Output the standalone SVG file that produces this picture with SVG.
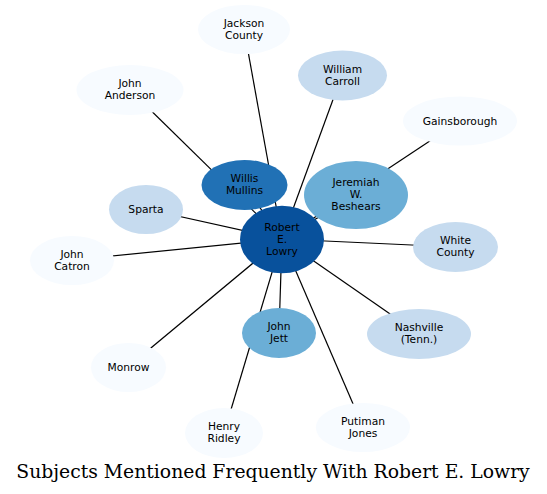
<svg xmlns="http://www.w3.org/2000/svg" width="547" height="494" viewBox="0 0 547 494">
<style>
.e{stroke:#000;stroke-width:1.2;fill:none}
.n text{font-family:"DejaVu Sans",sans-serif;font-size:10.7px;fill:#000;text-anchor:middle}
.l0{fill:#f7fbff}.l1{fill:#c6dbef}.l2{fill:#6baed6}.l3{fill:#2171b5}.l4{fill:#08519c}
.t{font-family:"DejaVu Serif",serif;font-size:18.8px;text-anchor:middle;fill:#000}
</style>
<rect width="547" height="494" fill="#fff"/>
<g id="edges">
<line class="e" x1="244" y1="29" x2="282" y2="239"/>
<line class="e" x1="130" y1="90" x2="282" y2="239"/>
<line class="e" x1="342" y1="75" x2="282" y2="239"/>
<line class="e" x1="460" y1="121" x2="282" y2="239"/>
<line class="e" x1="244" y1="185" x2="282" y2="239"/>
<line class="e" x1="356" y1="195" x2="282" y2="239"/>
<line class="e" x1="146" y1="209" x2="282" y2="239"/>
<line class="e" x1="72" y1="260" x2="282" y2="239"/>
<line class="e" x1="455" y1="247" x2="282" y2="239"/>
<line class="e" x1="419" y1="334" x2="282" y2="239"/>
<line class="e" x1="279" y1="333" x2="282" y2="239"/>
<line class="e" x1="128" y1="367" x2="282" y2="239"/>
<line class="e" x1="224" y1="433" x2="282" y2="239"/>
<line class="e" x1="363" y1="427" x2="282" y2="239"/>
</g>
<g id="jackson" class="n"><ellipse class="l0" cx="244" cy="29.5" rx="46" ry="24.5"/><text x="244" y="26.5">Jackson</text><text x="244" y="38.5">County</text></g>
<g id="anderson" class="n"><ellipse class="l0" cx="130" cy="90" rx="53.5" ry="25"/><text x="130" y="87">John</text><text x="130" y="99">Anderson</text></g>
<g id="carroll" class="n"><ellipse class="l1" cx="342.5" cy="75.5" rx="44.5" ry="25"/><text x="342.5" y="72.5">William</text><text x="342.5" y="84.5">Carroll</text></g>
<g id="gainsborough" class="n"><ellipse class="l0" cx="460" cy="121" rx="57" ry="24.5"/><text x="460" y="124.5">Gainsborough</text></g>
<g id="mullins" class="n"><ellipse class="l3" cx="244.5" cy="185" rx="43" ry="25"/><text x="244.5" y="182">Willis</text><text x="244.5" y="194">Mullins</text></g>
<g id="beshears" class="n"><ellipse class="l2" cx="356" cy="195" rx="52" ry="34"/><text x="356" y="186">Jeremiah</text><text x="356" y="198">W.</text><text x="356" y="210">Beshears</text></g>
<g id="sparta" class="n"><ellipse class="l1" cx="146" cy="209.5" rx="37" ry="24.5"/><text x="146" y="213">Sparta</text></g>
<g id="catron" class="n"><ellipse class="l0" cx="72" cy="260.5" rx="42" ry="24.5"/><text x="72" y="257.5">John</text><text x="72" y="269.5">Catron</text></g>
<g id="lowry" class="n"><ellipse class="l4" cx="282" cy="239.5" rx="42" ry="33.7"/><text x="282" y="230.5">Robert</text><text x="282" y="242.5">E.</text><text x="282" y="254.5">Lowry</text></g>
<g id="white" class="n"><ellipse class="l1" cx="455.5" cy="247" rx="42.5" ry="25"/><text x="455.5" y="244">White</text><text x="455.5" y="256">County</text></g>
<g id="nashville" class="n"><ellipse class="l1" cx="419" cy="334" rx="52" ry="25"/><text x="419" y="331">Nashville</text><text x="419" y="343">(Tenn.)</text></g>
<g id="jett" class="n"><ellipse class="l2" cx="279" cy="333" rx="37" ry="25"/><text x="279" y="330">John</text><text x="279" y="342">Jett</text></g>
<g id="monrow" class="n"><ellipse class="l0" cx="128.5" cy="367.5" rx="37.5" ry="24.5"/><text x="128.5" y="371">Monrow</text></g>
<g id="ridley" class="n"><ellipse class="l0" cx="224" cy="433" rx="39" ry="25"/><text x="224" y="430">Henry</text><text x="224" y="442">Ridley</text></g>
<g id="jones" class="n"><ellipse class="l0" cx="363" cy="427.5" rx="47" ry="24.5"/><text x="363" y="424.5">Putiman</text><text x="363" y="436.5">Jones</text></g>
<text class="t" x="273" y="478">Subjects Mentioned Frequently With Robert E. Lowry</text>
</svg>
